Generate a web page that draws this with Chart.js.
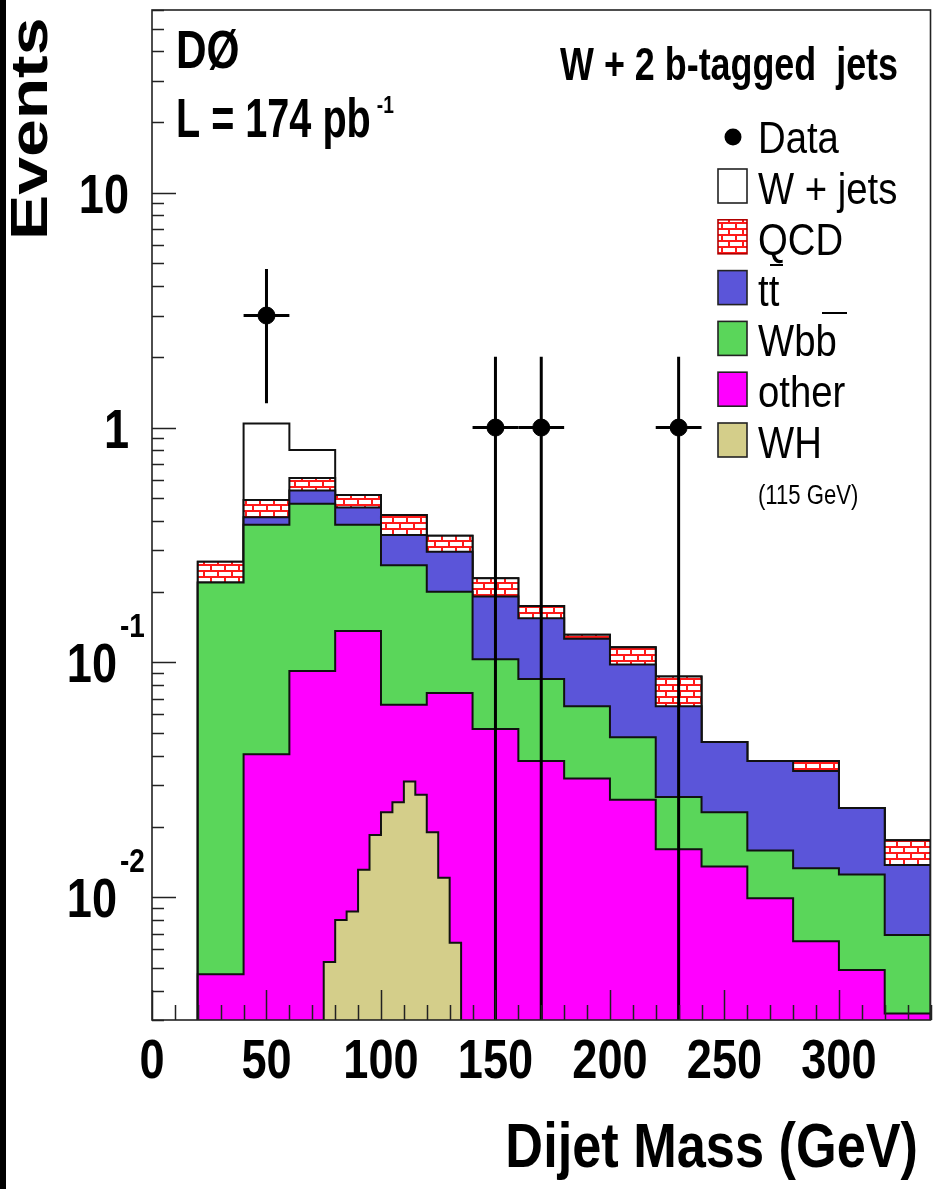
<!DOCTYPE html>
<html>
<head>
<meta charset="utf-8">
<script src="https://cdn.jsdelivr.net/npm/chart.js@4.4.1/dist/chart.umd.min.js"></script>
<style>
  html, body { margin: 0; padding: 0; background: #fff; }
  canvas { display: block; }
</style>
</head>
<body>
<canvas id="c" width="940" height="1189"></canvas>
<script>
/* ================================
   DATA
================================ */
const binEdges = [20, 40, 60, 80, 100, 120, 140, 160, 180, 200, 220, 240, 260, 280, 300, 320, 340];

// stacked tops of each layer, per 20 GeV bin
const otherTop = [0.0047, 0.0406, 0.092, 0.136, 0.066, 0.074, 0.052, 0.038, 0.032, 0.026, 0.016, 0.0135, 0.0099, 0.0065, 0.0049, 0.0032];
const wbbTop   = [0.219, 0.386, 0.474, 0.386, 0.259, 0.200, 0.103, 0.085, 0.065, 0.048, 0.0267, 0.023, 0.0158, 0.0133, 0.0125, 0.0069];
const ttTop    = [0.219, 0.415, 0.539, 0.457, 0.349, 0.296, 0.191, 0.154, 0.126, 0.098, 0.065, 0.0458, 0.038, 0.0345, 0.024, 0.0137];
const qcdTop   = [0.268, 0.492, 0.610, 0.516, 0.424, 0.346, 0.228, 0.174, 0.131, 0.116, 0.087, 0.0458, 0.038, 0.038, 0.024, 0.0175];
const wjetsTop = [0.268, 1.04, 0.803, 0.516, 0.424, 0.346, 0.228, 0.174, 0.131, 0.116, 0.087, 0.0458, 0.038, 0.038, 0.024, 0.0175];

// WH (115 GeV) signal, 5 GeV bins, not stacked
const whEdges  = [75, 80, 85, 90, 95, 100, 105, 110, 115, 120, 125, 130, 135];
const whValues = [0.0053, 0.0080, 0.0087, 0.0131, 0.0184, 0.0230, 0.0254, 0.0311, 0.0273, 0.0189, 0.0121, 0.0064];

// data points
const dataX    = [50, 150, 170, 230];
const dataY    = [3, 1, 1, 1];
const dataYErr = [1.73, 1, 1, 1];
const dataXErr = [10, 10, 10, 10];

const xTickLabels = ['0', '50', '100', '150', '200', '250', '300'];
const yTickLabels = [
  { v: 10, base: '10', exp: '' },
  { v: 1, base: '1', exp: '' },
  { v: 0.1, base: '10', exp: '-1' },
  { v: 0.01, base: '10', exp: '-2' }
];

const legendItems = [
  { label: 'W + jets', key: 'wjets' },
  { label: 'QCD', key: 'qcd' },
  { label: 'tt', key: 'tt' },
  { label: 'Wbb', key: 'wbb' },
  { label: 'other', key: 'other' },
  { label: 'WH', key: 'wh' }
];

const Y_MIN = 0.003, Y_MAX = 60;
const X_MIN = 0, X_MAX = 340;

/* ================================
   HELPERS
================================ */
function histPoints(edges, values, base) {
  const pts = [{ x: edges[0], y: base }];
  values.forEach((v, i) => pts.push({ x: edges[i], y: v }));
  pts.push({ x: edges[edges.length - 1], y: values[values.length - 1] });
  pts.push({ x: edges[edges.length - 1], y: base });
  return pts;
}

function brickPattern() {
  const p = document.createElement('canvas');
  p.width = 14; p.height = 12;
  const g = p.getContext('2d');
  g.fillStyle = '#ffffff';
  g.fillRect(0, 0, 14, 12);
  g.fillStyle = '#ff1a1a';
  g.fillRect(0, 0, 14, 2);
  g.fillRect(0, 6, 14, 2);
  g.fillRect(0, 0, 2, 6);
  g.fillRect(7, 6, 2, 6);
  return g.createPattern(p, 'repeat');
}

const FONT = '"Liberation Sans", Arial, Helvetica, sans-serif';

function txt(ctx, s, x, y, size, bold, sx, align) {
  ctx.save();
  ctx.font = (bold ? 'bold ' : '') + size + 'px ' + FONT;
  ctx.textBaseline = 'alphabetic';
  ctx.textAlign = 'left';
  const w = ctx.measureText(s).width * sx;
  const x0 = align === 'right' ? x - w : align === 'center' ? x - w / 2 : x;
  ctx.translate(x0, y);
  ctx.scale(sx, 1);
  ctx.fillStyle = '#000';
  ctx.fillText(s, 0, 0);
  ctx.restore();
  return w;
}

const colors = {
  wjets: '#ffffff',
  qcd: null, // pattern
  tt: '#5b55d9',
  wbb: '#5ad65a',
  other: '#ff00ff',
  wh: '#d4ce8a'
};

/* ================================
   PLUGINS
================================ */
const backdrop = {
  id: 'backdrop',
  beforeDraw(chart) {
    const ctx = chart.ctx;
    ctx.save();
    ctx.fillStyle = '#fff';
    ctx.fillRect(0, 0, chart.width, chart.height);
    ctx.fillStyle = '#000';
    ctx.fillRect(0, 0, 6, chart.height);
    ctx.restore();
  }
};

const overlay = {
  id: 'overlay',
  afterDatasetsDraw(chart) {
    const ctx = chart.ctx;
    const xs = chart.scales.x, ys = chart.scales.y;
    const a = chart.chartArea;

    // error bars
    ctx.save();
    ctx.strokeStyle = '#000';
    ctx.lineWidth = 3;
    dataX.forEach((x, i) => {
      const px = xs.getPixelForValue(x);
      const py = ys.getPixelForValue(dataY[i]);
      const lo = dataY[i] - dataYErr[i];
      const pLo = lo > Y_MIN ? ys.getPixelForValue(lo) : a.bottom;
      const pHi = ys.getPixelForValue(dataY[i] + dataYErr[i]);
      ctx.beginPath();
      ctx.moveTo(px, pHi); ctx.lineTo(px, pLo);
      ctx.moveTo(xs.getPixelForValue(x - dataXErr[i]), py);
      ctx.lineTo(xs.getPixelForValue(x + dataXErr[i]), py);
      ctx.stroke();
    });
    ctx.restore();

    // ticks
    ctx.save();
    ctx.strokeStyle = '#222';
    ctx.lineWidth = 1.5;
    ctx.beginPath();
    for (let d = -3; d <= 1; d++) {
      for (let m = 1; m <= 9; m++) {
        const v = m * Math.pow(10, d);
        if (v < Y_MIN || v > Y_MAX) continue;
        const py = Math.round(ys.getPixelForValue(v)) + 0.5;
        ctx.moveTo(a.left, py);
        ctx.lineTo(a.left + (m === 1 ? 24 : 12), py);
      }
    }
    for (let v = X_MIN; v <= X_MAX; v += 10) {
      const px = Math.round(xs.getPixelForValue(v)) + 0.5;
      ctx.moveTo(px, a.bottom);
      ctx.lineTo(px, a.bottom - (v % 50 === 0 ? 30 : 15));
    }
    ctx.stroke();
    // frame
    ctx.lineWidth = 1.6;
    ctx.strokeRect(a.left, a.top, a.right - a.left, a.bottom - a.top);
    ctx.restore();
  },
  afterDraw(chart) {
    const ctx = chart.ctx;
    const xs = chart.scales.x, ys = chart.scales.y;

    // x tick labels
    xTickLabels.forEach(t => {
      txt(ctx, t, xs.getPixelForValue(Number(t)), 1078, 55, true, 0.82, 'center');
    });
    // y tick labels
    yTickLabels.forEach(t => {
      const py = ys.getPixelForValue(t.v);
      if (t.exp) {
        txt(ctx, t.base, 117, py + 20, 55, true, 0.82, 'right');
        txt(ctx, t.exp, 120, py - 25, 34, true, 0.82, 'left');
      } else {
        txt(ctx, t.base, 129, py + 20, 55, true, 0.82, 'right');
      }
    });

    // axis titles
    txt(ctx, 'Dijet Mass (GeV)', 918, 1167, 63, true, 0.83, 'right');
    ctx.save();
    ctx.translate(47, 240);
    ctx.rotate(-Math.PI / 2);
    ctx.scale(1.33, 1);
    ctx.font = 'bold 51px ' + FONT;
    ctx.fillStyle = '#000';
    ctx.textBaseline = 'alphabetic';
    ctx.fillText('Events', 0, 0);
    ctx.restore();

    // labels in the frame
    txt(ctx, 'DØ', 176, 68, 53, true, 0.8, 'left');
    const w = txt(ctx, 'L = 174 pb', 176, 137, 55, true, 0.72, 'left');
    txt(ctx, '-1', 176 + w + 6, 113, 24, true, 0.8, 'left');
    txt(ctx, 'W + 2 b-tagged  jets', 898, 80, 46, true, 0.78, 'right');

    // legend
    ctx.save();
    ctx.fillStyle = '#000';
    ctx.beginPath();
    ctx.arc(733, 137, 8.5, 0, Math.PI * 2);
    ctx.fill();
    ctx.restore();
    txt(ctx, 'Data', 758, 153, 44, false, 0.87, 'left');

    legendItems.forEach((it, i) => {
      const cy = 186 + i * 50.8;
      ctx.save();
      ctx.fillStyle = it.key === 'qcd' ? qcdFill : colors[it.key];
      ctx.fillRect(718, cy - 17, 29, 34);
      ctx.strokeStyle = it.key === 'qcd' ? '#b00000' : '#222';
      ctx.lineWidth = 1.6;
      ctx.strokeRect(718, cy - 17, 29, 34);
      ctx.restore();
      txt(ctx, it.label, 758, cy + 18, 44, false, 0.87, 'left');
    });
    // bars over the anti-quarks
    ctx.save();
    ctx.strokeStyle = '#000';
    ctx.lineWidth = 2;
    ctx.beginPath();
    ctx.moveTo(770, 265); ctx.lineTo(783, 265);
    ctx.moveTo(822, 313); ctx.lineTo(847, 313);
    ctx.stroke();
    ctx.restore();
    txt(ctx, '(115 GeV)', 758, 504, 27, false, 0.82, 'left');
  }
};

/* ================================
   CHART
================================ */
const canvas = document.getElementById('c');
const qcdFill = brickPattern();

function layer(label, tops, fill, order) {
  return {
    type: 'line',
    label,
    data: histPoints(binEdges, tops, Y_MIN),
    stepped: true,
    fill: 'start',
    backgroundColor: fill,
    borderColor: '#111',
    borderWidth: 2,
    pointRadius: 0,
    order
  };
}

new Chart(canvas, {
  type: 'line',
  data: {
    datasets: [
      {
        type: 'scatter',
        label: 'Data',
        data: dataX.map((x, i) => ({ x, y: dataY[i] })),
        pointRadius: 8.5,
        pointBackgroundColor: '#000',
        pointBorderColor: '#000',
        showLine: false,
        order: 0
      },
      {
        type: 'line',
        label: 'WH',
        data: histPoints(whEdges, whValues, Y_MIN),
        stepped: true,
        fill: 'start',
        backgroundColor: colors.wh,
        borderColor: '#111',
        borderWidth: 2,
        pointRadius: 0,
        order: 1
      },
      layer('other', otherTop, colors.other, 2),
      layer('Wbb', wbbTop, colors.wbb, 3),
      layer('tt', ttTop, colors.tt, 4),
      layer('QCD', qcdTop, qcdFill, 5),
      layer('W + jets', wjetsTop, colors.wjets, 6)
    ]
  },
  options: {
    responsive: false,
    animation: false,
    devicePixelRatio: 1,
    layout: { padding: { left: 152, top: 10, right: 8, bottom: 169 } },
    plugins: { legend: { display: false }, tooltip: { enabled: false } },
    scales: {
      x: { type: 'linear', min: X_MIN, max: X_MAX, display: false },
      y: { type: 'logarithmic', min: Y_MIN, max: Y_MAX, display: false }
    }
  },
  plugins: [backdrop, overlay]
});
</script>
</body>
</html>
